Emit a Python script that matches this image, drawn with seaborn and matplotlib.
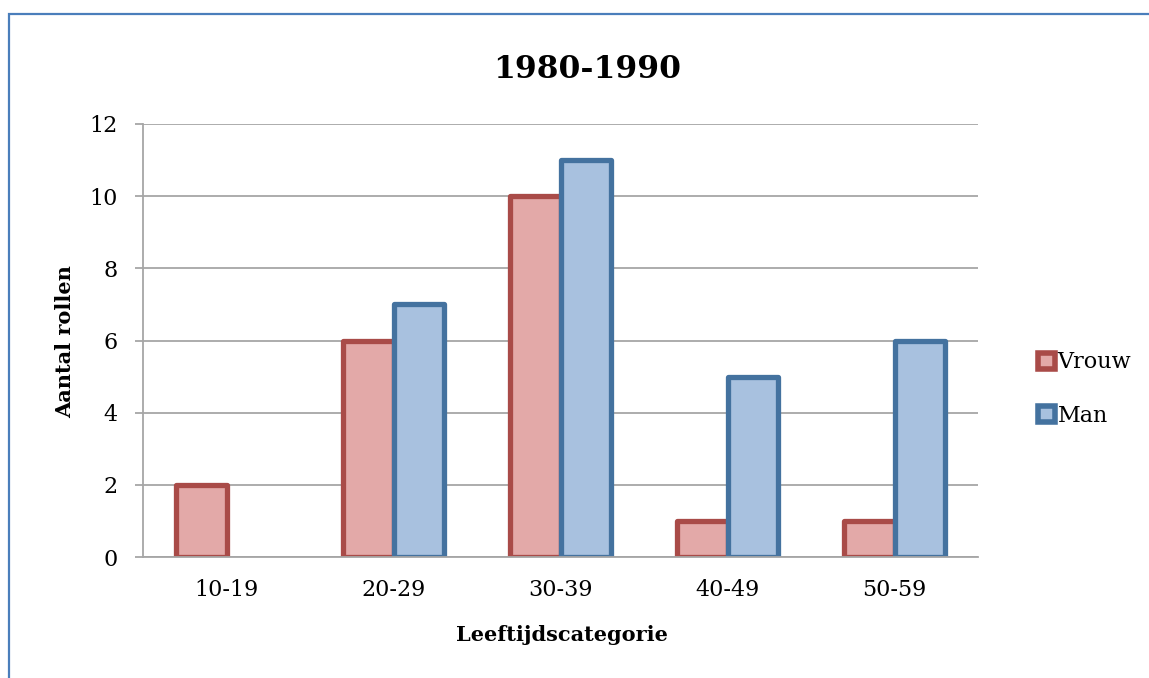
import pandas as pd
import matplotlib.pyplot as plt
import seaborn as sns
from matplotlib.patches import Patch, Rectangle

# data
categories = ['10-19', '20-29', '30-39', '40-49', '50-59']
series = ['Vrouw', 'Man']
vrouw = [2, 6, 10, 1, 1]
man = [0, 7, 11, 5, 6]

fill_colors = ['#E3A9A8', '#A8C1DF']
edge_colors = ['#A94B48', '#44729F']

df = pd.DataFrame({'categorie': categories * 2,
                   'aantal': vrouw + man,
                   'geslacht': ['Vrouw'] * len(vrouw) + ['Man'] * len(man)})

sns.set_style('white')
plt.rcParams['font.family'] = ['DejaVu Serif']
plt.rcParams['text.color'] = 'black'
plt.rcParams['xtick.labelcolor'] = 'black'
plt.rcParams['ytick.labelcolor'] = 'black'

fig = plt.figure(figsize=(11.49, 6.78), dpi=100)
ax = fig.add_axes([143 / 1149, 1 - 557 / 678, (978 - 143) / 1149, (557 - 124) / 678])

sns.barplot(data=df, x='categorie', y='aantal', hue='geslacht',
            order=categories, hue_order=series, palette=fill_colors,
            saturation=1, width=0.6, legend=False, ax=ax)

for cont, ec in zip(ax.containers, edge_colors):
    for bar in cont:
        bar.set_edgecolor(ec)
        bar.set_linewidth(3.8)
        bar.set_joinstyle('round')
        if bar.get_height() == 0:
            bar.set_visible(False)

ax.set_ylim(0, 12)
ax.set_xlim(-0.5, 4.5)
ax.set_yticks(range(0, 13, 2))
ax.yaxis.grid(True, color='#A6A6A6', lw=1.3)
ax.set_axisbelow(True)
for s in ['top', 'right']:
    ax.spines[s].set_visible(False)
for s in ['left', 'bottom']:
    ax.spines[s].set_color('#A6A6A6')
    ax.spines[s].set_linewidth(1.3)

ax.set_xticks([i - 0.5 for i in range(len(categories) + 1)], minor=True)
ax.tick_params(axis='x', which='major', length=0, pad=16, labelsize=16)
ax.tick_params(axis='x', which='minor', length=6, width=1.3, color='#A6A6A6', direction='out')
ax.tick_params(axis='y', length=6, width=1.3, color='#A6A6A6', direction='out', pad=12, labelsize=16, left=True)
ax.set_xlabel('')
ax.set_ylabel('')

fig.text(65 / 1149, 1 - 342 / 678, 'Aantal rollen', rotation=90, ha='center', va='center',
         fontsize=15, fontweight='bold')
fig.text(562 / 1149, 1 - 635 / 678, 'Leeftijdscategorie', ha='center', va='center',
         fontsize=15, fontweight='bold')
fig.text(587 / 1149, 1 - 70 / 678, '1980-1990', ha='center', va='center',
         fontsize=22.5, fontweight='bold')

handles = [Patch(facecolor=f, edgecolor=e, linewidth=4) for f, e in zip(fill_colors, edge_colors)]
ax.legend(handles, series, loc='center left', bbox_to_anchor=(1027 / 1149, 1 - 389 / 678),
          bbox_transform=fig.transFigure, frameon=False, fontsize=16, borderpad=0,
          handlelength=0.75, handleheight=0.75, handletextpad=0.12, labelspacing=1.4)

fig.patches.append(Rectangle((9 / 1149, -0.1), 1.2, 1 - 14 / 678 + 0.1, transform=fig.transFigure,
                             fill=False, edgecolor='#4A7EBB', linewidth=1.6, figure=fig))

fig.savefig('out.png', dpi=100)
